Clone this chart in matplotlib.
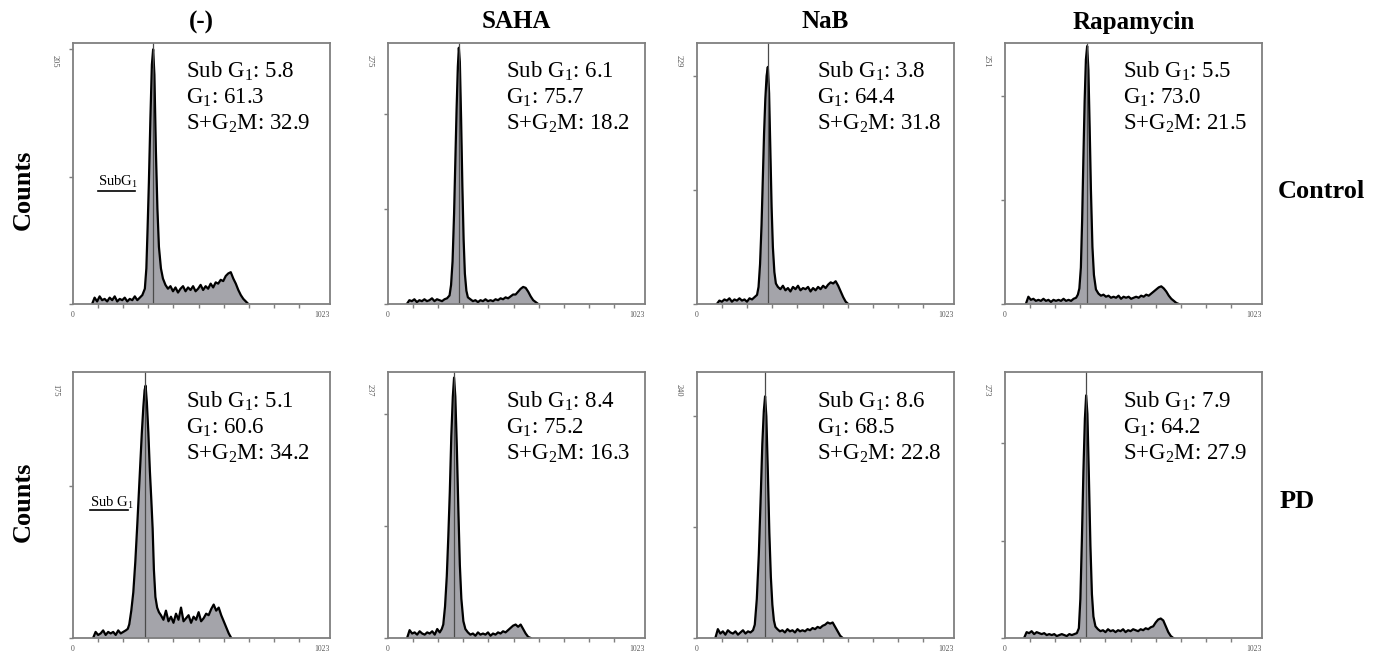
import numpy as np
import matplotlib
matplotlib.use("Agg")
import matplotlib.pyplot as plt

plt.rcParams["font.family"] = ["Liberation Serif", "DejaVu Serif"]
plt.rcParams["mathtext.fontset"] = "custom"
plt.rcParams["mathtext.rm"] = "Liberation Serif"
plt.rcParams["mathtext.it"] = "Liberation Serif:italic"

W, H = 1373, 651
FILL, EDGE, FRAME = "#a4a4aa", "black", "#7f7f7f"

treatments = ["(-)", "SAHA", "NaB", "Rapamycin"]
groups = ["Control", "PD"]

# y-axis maximum printed by the cytometer, per panel
ymax_ctrl = [205, 275, 229, 251]
ymax_pd = [175, 237, 240, 273]
# G1 peak marker position (channel)
peak_ctrl = [320, 283, 284, 327]
peak_pd = [288, 264, 271, 324]

# cell-cycle percentages
subg1_ctrl = [5.8, 6.1, 3.8, 5.5]
g1_ctrl = [61.3, 75.7, 64.4, 73.0]
sg2m_ctrl = [32.9, 18.2, 31.8, 21.5]
subg1_pd = [5.1, 8.4, 8.6, 7.9]
g1_pd = [60.6, 75.2, 68.5, 64.2]
sg2m_pd = [34.2, 16.3, 22.8, 27.9]

# DNA histograms (channel, counts)
ch_ctrl_neg = np.r_[np.arange(76, 287, 10), [292, 297, 302, 308, 314, 319, 324, 330, 336, 342, 350, 358],
                    np.arange(368, 699, 10)]
ct_ctrl_neg = [0, 5, 2, 6, 3, 4, 2, 5, 3, 6, 2, 4, 3, 5, 2, 4, 3, 6, 3, 5, 7, 12,
               28, 60, 95, 145, 188, 200, 180, 120, 75, 45, 28, 20,
               15, 12, 14, 10, 13, 9, 12, 14, 10, 13, 11, 14, 10, 12, 15, 11, 14, 12, 16, 13,
               17, 16, 19, 18, 22, 24, 25, 20, 16, 11, 7, 4, 2, 0]

ch_ctrl_saha = np.r_[np.arange(75, 246, 10), [251, 257, 263, 268, 273, 278, 282, 286, 291, 296, 301, 306, 312, 318],
                     np.arange(328, 599, 10)]
ct_ctrl_saha = [0, 4, 3, 5, 2, 4, 3, 5, 3, 4, 6, 3, 5, 4, 3, 5, 6, 9,
                20, 45, 95, 150, 205, 250, 270, 255, 195, 125, 68, 32, 14, 7,
                5, 3, 4, 2, 4, 3, 5, 3, 4, 3, 5, 4, 6, 5, 7, 6, 8, 10, 10, 13, 16, 18, 17, 13, 8, 4, 2, 0]

ch_ctrl_nab = np.r_[np.arange(79, 240, 10), [245, 251, 257, 262, 267, 272, 277, 282, 287, 292, 297, 302, 308, 314],
                    np.arange(322, 603, 10)]
ct_ctrl_nab = [0, 3, 2, 4, 3, 5, 2, 4, 3, 5, 3, 4, 2, 5, 4, 6, 8,
               15, 35, 70, 110, 150, 180, 200, 208, 185, 135, 85, 50, 28, 18,
               15, 13, 16, 12, 14, 11, 15, 13, 16, 12, 14, 13, 15, 11, 14, 12, 15, 13, 16, 14,
               17, 19, 18, 20, 16, 11, 6, 2, 0]

ch_ctrl_rapa = np.r_[np.arange(83, 284, 10), [290, 296, 302, 307, 312, 317, 322, 327, 332, 337, 342, 348, 354, 362],
                     np.arange(372, 693, 10)]
ct_ctrl_rapa = [0, 7, 4, 5, 3, 4, 3, 5, 3, 4, 2, 4, 3, 4, 3, 5, 3, 4, 3, 5, 6,
                9, 15, 35, 80, 140, 195, 235, 248, 225, 170, 110, 55, 28, 14,
                10, 8, 9, 7, 8, 6, 7, 6, 8, 5, 7, 6, 7, 5, 6, 7, 6, 8, 7, 9,
                8, 10, 12, 14, 16, 17, 15, 12, 8, 5, 3, 1, 0]

ch_pd_neg = np.r_[np.arange(80, 211, 10), [218, 224, 232, 240, 248, 256, 262, 268, 274, 280, 285, 289, 294, 300,
                                            306, 312, 317, 322, 328, 335, 342],
                  np.arange(350, 631, 10)]
ct_pd_neg = [0, 4, 2, 3, 5, 2, 4, 3, 4, 2, 5, 3, 4, 5,
             6, 9, 18, 30, 50, 75, 95, 115, 135, 152, 163, 166, 155, 135, 110, 90, 72, 45, 27, 20, 17,
             15, 12, 18, 11, 14, 10, 16, 12, 20, 11, 13, 15, 10, 14, 12, 17, 11, 13, 16, 15,
             19, 22, 18, 20, 15, 11, 7, 3, 0]

ch_pd_saha = np.r_[np.arange(76, 207, 10), [214, 220, 227, 234, 240, 246, 252, 258, 263, 268, 274, 280, 286, 292,
                                             300, 308],
                   np.arange(318, 569, 10)]
ct_pd_saha = [0, 7, 4, 5, 3, 6, 4, 3, 5, 4, 6, 3, 8, 5,
              8, 12, 28, 55, 90, 130, 180, 215, 232, 215, 170, 115, 65, 35, 15, 8,
              5, 3, 4, 2, 5, 3, 4, 3, 5, 2, 4, 3, 5, 4, 6, 5, 7, 9, 11, 12, 10, 12, 8, 4, 1, 0]

ch_pd_nab = np.r_[np.arange(73, 224, 10), [230, 238, 246, 254, 260, 266, 271, 276, 282, 288, 294, 300, 306, 312],
                  np.arange(320, 581, 10)]
ct_pd_nab = [0, 8, 4, 6, 3, 7, 5, 4, 6, 3, 5, 7, 4, 6, 5, 7,
             12, 35, 75, 130, 175, 205, 218, 200, 150, 95, 55, 30, 16, 10,
             8, 6, 7, 5, 8, 6, 7, 5, 8, 6, 7, 6, 8, 7, 9, 8, 10, 9, 11, 12, 14, 13, 14, 10, 6, 2, 0]

ch_pd_rapa = np.r_[np.arange(76, 287, 10), [294, 300, 306, 312, 318, 323, 328, 334, 340, 346, 352, 360],
                   np.arange(370, 671, 10)]
ct_pd_rapa = [0, 6, 5, 7, 4, 6, 5, 4, 5, 3, 4, 3, 4, 2, 3, 4, 3, 2, 4, 3, 4, 5,
              10, 40, 100, 170, 225, 249, 230, 165, 95, 45, 22, 12,
              9, 7, 8, 6, 9, 7, 8, 6, 8, 7, 9, 6, 8, 7, 9, 8, 7, 9, 8, 10,
              9, 11, 12, 16, 19, 20, 18, 12, 6, 2, 0]

hist_ctrl = [(ch_ctrl_neg, ct_ctrl_neg), (ch_ctrl_saha, ct_ctrl_saha),
             (ch_ctrl_nab, ct_ctrl_nab), (ch_ctrl_rapa, ct_ctrl_rapa)]
hist_pd = [(ch_pd_neg, ct_pd_neg), (ch_pd_saha, ct_pd_saha),
           (ch_pd_nab, ct_pd_nab), (ch_pd_rapa, ct_pd_rapa)]

# layout in pixels
lefts = [73, 388, 697, 1005]
pw = 257
row_top = [43, 372]
row_h = [261, 266]
text_x = [0.44, 0.46, 0.465, 0.46]

fig = plt.figure(figsize=(W / 100, H / 100), dpi=100)

rows = [(hist_ctrl, ymax_ctrl, peak_ctrl, subg1_ctrl, g1_ctrl, sg2m_ctrl),
        (hist_pd, ymax_pd, peak_pd, subg1_pd, g1_pd, sg2m_pd)]

for r, (hists, ymaxs, peaks, sg, g1, s2) in enumerate(rows):
    for c in range(4):
        ax = fig.add_axes([lefts[c] / W, 1 - (row_top[r] + row_h[r]) / H, pw / W, row_h[r] / H])
        ch, ct = hists[c]
        ax.fill_between(ch, ct, 0, color=FILL, lw=0)
        ax.plot(ch, ct, color=EDGE, lw=1.6)
        ax.axvline(peaks[c], color="#4a4a4a", lw=0.9)
        ax.set_xlim(0, 1023)
        ax.set_ylim(0, ymaxs[c])
        ax.set_xticks(np.arange(100, 1000, 100))
        ax.set_yticks(np.arange(0, ymaxs[c], 100))
        ax.set_xticklabels([])
        ax.set_yticklabels([])
        ax.tick_params(direction="out", length=3, width=1, color=FRAME)
        for sp in ax.spines.values():
            sp.set_color(FRAME)
            sp.set_linewidth(1.3)
        ax.text(0.0, -0.025, "0", transform=ax.transAxes, ha="center", va="top",
                fontsize=5.5, color="#555555")
        ax.text(1.0, -0.025, "1023", transform=ax.transAxes, ha="right", va="top",
                fontsize=5.5, color="#555555")
        ax.text(-0.07, 0.955, str(ymaxs[c]), transform=ax.transAxes, ha="center", va="top",
                rotation=270, fontsize=6, color="#555555")
        txt = (f"Sub G$_1$: {sg[c]:.1f}\nG$_1$: {g1[c]:.1f}\nS+G$_2$M: {s2[c]:.1f}")
        ax.text(text_x[c], 0.935, txt, transform=ax.transAxes, ha="left", va="top",
                fontsize=16.5, linespacing=1.22)
        if c == 0:
            if r == 0:
                lx, ly, lw_, uy, lab = 0.097, 0.467, 0.144, 0.433, "SubG$_1$"
            else:
                lx, ly, lw_, uy, lab = 0.066, 0.507, 0.148, 0.481, "Sub G$_1$"
            ax.text(lx, ly, lab, transform=ax.transAxes, ha="left", va="center", fontsize=10.5)
            ax.plot([lx, lx + lw_], [uy, uy], transform=ax.transAxes, color="black", lw=1.2)

for c, t in enumerate(treatments):
    fig.text((lefts[c] + pw / 2) / W, 1 - 22 / H, t, ha="center", va="center",
             fontsize=18, fontweight="bold")

for yc in [190, 502]:
    fig.text(23 / W, 1 - yc / H, "Counts", ha="center", va="center", rotation=90,
             fontsize=19, fontweight="bold")
fig.text(1278 / W, 1 - 191 / H, groups[0], ha="left", va="center", fontsize=19, fontweight="bold")
fig.text(1280 / W, 1 - 501 / H, groups[1], ha="left", va="center", fontsize=19, fontweight="bold")

fig.savefig("out.png", dpi=100)
